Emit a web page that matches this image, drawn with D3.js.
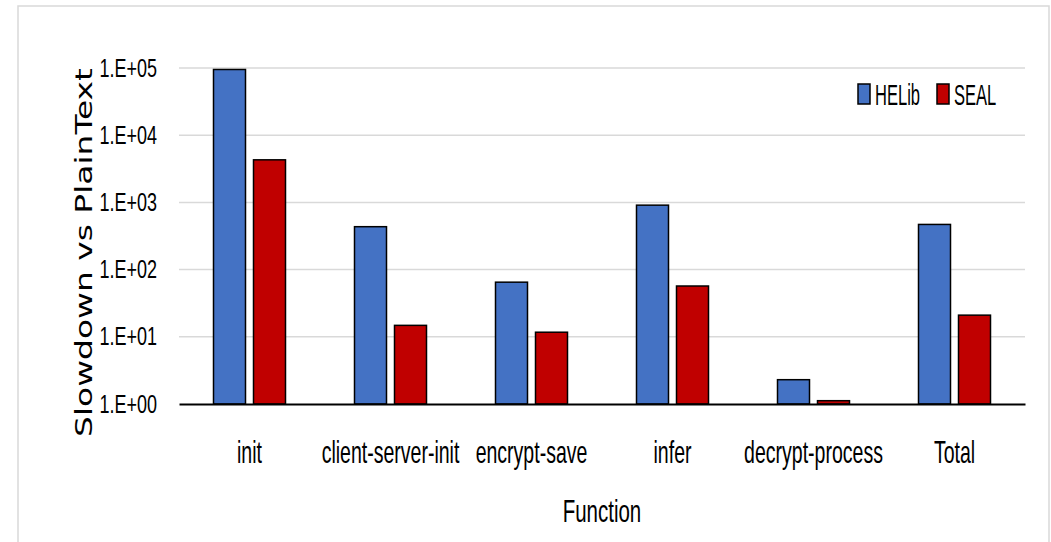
<!DOCTYPE html>
<html>
<head>
<meta charset="utf-8">
<script src="https://cdn.jsdelivr.net/npm/d3@7"></script>
<style>
  body { margin: 0; background: #fff; }
  text { font-family: "Liberation Sans", Arial, sans-serif; fill: #000; }
  .y-title { font-family: "DejaVu Sans", Verdana, sans-serif; }
</style>
</head>
<body>
<svg id="chart"></svg>
<script>
// chart data
const categories = ['init', 'client-server-init', 'encrypt-save', 'infer', 'decrypt-process', 'Total'];
const seriesNames = ['HELib', 'SEAL'];
const helibValues = [95000, 435, 65, 910, 2.3, 470];
const sealValues = [4300, 14.8, 11.7, 57, 1.12, 21];
const yTickValues = [1, 10, 100, 1000, 10000, 100000];
const yTickLabels = ['1.E+00', '1.E+01', '1.E+02', '1.E+03', '1.E+04', '1.E+05'];

class LogBarChart {

    constructor(_config)
    {
        this.config =
        {
            parentElement: _config.parentElement,
            containerWidth: _config.containerWidth || 1051,
            containerHeight: _config.containerHeight || 542,
            margin: _config.margin || { top: 68, right: 26, bottom: 138, left: 179 },
            colors: _config.colors || ['#4472c4', '#c00000']
        }
        this.initVis();
    }

    initVis()
    {
        let vis = this;

        vis.width = vis.config.containerWidth - vis.config.margin.left - vis.config.margin.right;
        vis.height = vis.config.containerHeight - vis.config.margin.top - vis.config.margin.bottom;

        vis.svg = d3.select(vis.config.parentElement)
            .attr('width', vis.config.containerWidth)
            .attr('height', vis.config.containerHeight);

        // light frame like the exported chart area
        vis.svg.append('rect')
            .attr('x', 18).attr('y', 6)
            .attr('width', 1031).attr('height', 600)
            .attr('fill', '#fff')
            .attr('stroke', '#d9d9d9')
            .attr('stroke-width', 1.5);

        vis.chart = vis.svg.append('g')
            .attr('transform', `translate(${vis.config.margin.left},${vis.config.margin.top})`);

        vis.xScale = d3.scaleBand()
            .domain(categories)
            .range([0, vis.width]);

        // 2 bars of 32px with 8px gap, centred in each band
        const groupW = 72;
        vis.xSub = d3.scaleBand()
            .domain(seriesNames)
            .range([(vis.xScale.bandwidth() - groupW) / 2, (vis.xScale.bandwidth() + groupW) / 2])
            .paddingInner(0.2);

        vis.yScale = d3.scaleLog()
            .domain([1, 100000])
            .range([vis.height, 0]);

        vis.colorScale = d3.scaleOrdinal()
            .domain(seriesNames)
            .range(vis.config.colors);

        vis.data = categories.map((c, i) => ({ category: c, values: [
            { key: 'HELib', value: helibValues[i] },
            { key: 'SEAL', value: sealValues[i] }
        ]}));

        vis.renderVis();
    }

    renderVis()
    {
        let vis = this;

        // gridlines
        vis.chart.append('g')
            .selectAll('line')
            .data(yTickValues.slice(1))
            .join('line')
            .attr('x1', 0).attr('x2', vis.width)
            .attr('y1', d => vis.yScale(d)).attr('y2', d => vis.yScale(d))
            .attr('stroke', '#d9d9d9')
            .attr('stroke-width', 1.5);

        // y axis labels only
        const yAxis = d3.axisLeft(vis.yScale)
            .tickValues(yTickValues)
            .tickFormat((d, i) => yTickLabels[i])
            .tickSize(0)
            .tickPadding(22);

        const yAxisGroup = vis.chart.append('g').call(yAxis);
        yAxisGroup.select('.domain').remove();
        yAxisGroup.selectAll('text')
            .style('font-size', '25px')
            .style('font-family', null)
            .attr('fill', '#000');
        squeeze(yAxisGroup.selectAll('text'), 0.72);

        // bars
        const groups = vis.chart.selectAll('.bar-group')
            .data(vis.data)
            .join('g')
            .attr('class', 'bar-group')
            .attr('transform', d => `translate(${vis.xScale(d.category)},0)`);

        groups.selectAll('rect')
            .data(d => d.values)
            .join('rect')
            .attr('x', d => vis.xSub(d.key))
            .attr('y', d => vis.yScale(d.value))
            .attr('width', vis.xSub.bandwidth())
            .attr('height', d => vis.yScale(1) - vis.yScale(d.value))
            .attr('fill', d => vis.colorScale(d.key))
            .attr('stroke', '#000')
            .attr('stroke-width', 1.5);

        // x axis
        const xAxis = d3.axisBottom(vis.xScale)
            .tickSize(0)
            .tickPadding(37);

        const xAxisGroup = vis.chart.append('g')
            .attr('transform', `translate(0,${vis.height})`)
            .call(xAxis);
        xAxisGroup.select('.domain')
            .attr('stroke', '#000')
            .attr('stroke-width', 2.2);
        xAxisGroup.selectAll('text')
            .style('font-size', '31px')
            .style('font-family', null)
            .attr('fill', '#000');
        squeeze(xAxisGroup.selectAll('text'), 0.63);

        // axis titles
        const xTitle = vis.svg.append('text')
            .attr('x', vis.config.margin.left + vis.width / 2)
            .attr('y', 522)
            .attr('text-anchor', 'middle')
            .style('font-size', '32px')
            .text('Function');
        squeeze(xTitle, 0.64);

        vis.svg.append('text')
            .attr('class', 'y-title')
            .attr('transform', 'translate(92,252.5) rotate(-90)')
            .attr('text-anchor', 'middle')
            .attr('textLength', 369)
            .attr('lengthAdjust', 'spacingAndGlyphs')
            .style('font-size', '23px')
            .text('Slowdown vs PlainText');

        // legend
        const legendPos = [{ mx: 858, tx: 875 }, { mx: 937, tx: 954 }];
        const legend = vis.svg.append('g')
            .selectAll('g')
            .data(seriesNames)
            .join('g');

        legend.append('rect')
            .attr('x', (d, i) => legendPos[i].mx)
            .attr('y', 84)
            .attr('width', 12)
            .attr('height', 20)
            .attr('fill', d => vis.colorScale(d))
            .attr('stroke', '#000')
            .attr('stroke-width', 1.5);

        const legendText = legend.append('text')
            .attr('x', (d, i) => legendPos[i].tx)
            .attr('y', 105)
            .style('font-size', '29px')
            .text(d => d);
        squeeze(legendText, 0.57);
    }
}

// narrow the glyphs horizontally (around the text's own x) so it looks like the condensed original
function squeeze(sel, factor) {
    sel.each(function() {
        const ax = +(this.getAttribute('x') || 0);
        d3.select(this)
            .attr('transform', `translate(${ax},0) scale(${factor},1) translate(${-ax},0)`);
    });
}

new LogBarChart({ parentElement: '#chart' });
</script>
</body>
</html>
